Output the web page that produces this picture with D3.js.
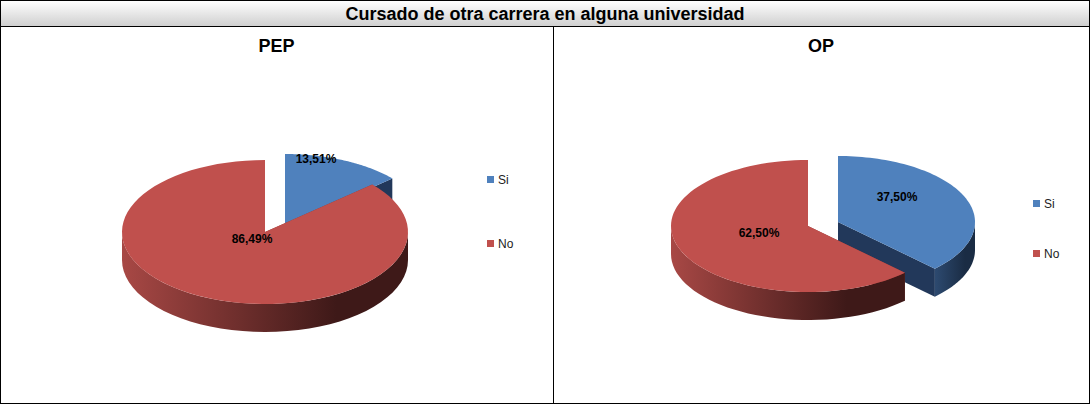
<!DOCTYPE html><html><head><meta charset="utf-8"><script src="https://cdn.jsdelivr.net/npm/d3@7"></script>
<style>body{margin:0;background:#fff}text{font-family:Arial,"Liberation Sans",sans-serif}</style></head><body>
<svg id="c" width="1090" height="404"></svg>
<script>
const title="Cursado de otra carrera en alguna universidad";
const categories=["Si","No"];
const pepValues=[13.51,86.49];
const opValues=[37.50,62.50];
const charts=[
 {name:"PEP",values:pepValues,x0:0,w:553,cx:265,cy:232,rx:143,ry:72,d:28,off:[20,-6],legX:487,legY:[180,244],lab:[[316,163],[252,243]]},
 {name:"OP",values:opValues,x0:553,w:536,cx:808,cy:226,rx:137,ry:66,d:28,off:[30,-4],legX:1033,legY:[204,254],lab:[[897,201],[759,237]]}
];
const svg=d3.select("#c");
const defs=svg.append("defs");
const tg=defs.append("linearGradient").attr("id","tg").attr("x1",0).attr("y1",0).attr("x2",0).attr("y2",1);
tg.append("stop").attr("offset",0).attr("stop-color","#fff");tg.append("stop").attr("offset",1).attr("stop-color","#cfcfcf");
const mk=(id,a,b)=>{const g=defs.append("linearGradient").attr("id",id);g.append("stop").attr("offset",0).attr("stop-color",a);g.append("stop").attr("offset",0.75).attr("stop-color",b);g.append("stop").attr("offset",1).attr("stop-color",b);};
mk("rw","#a84845","#3e1918");mk("bw","#2d4a70","#1a2c44");
const topC={Si:"#4F81BD",No:"#C0504D"},wallC={Si:"url(#bw)",No:"url(#rw)"},faceC={Si:"#22385a",No:"#8a3633"};
svg.append("rect").attr("x",0.5).attr("y",0.5).attr("width",1089).attr("height",26).attr("fill","url(#tg)").attr("stroke","#000");
svg.append("text").attr("x",545).attr("y",20).attr("text-anchor","middle").attr("font-size",18).attr("font-weight","bold").text(title);
charts.forEach(c=>{
 svg.append("rect").attr("x",c.x0+0.5).attr("y",26.5).attr("width",c.w).attr("height",377).attr("fill","none").attr("stroke","#000");
 svg.append("text").attr("x",c.x0+c.w/2).attr("y",52).attr("text-anchor","middle").attr("font-size",18).attr("font-weight","bold").text(c.name);
 const arcs=d3.pie().sort(null)(c.values);
 const g=svg.append("g");
 arcs.forEach((a,i)=>{
  const k=categories[i];
  let cx=c.cx,cy=c.cy;
  if(i===0){cx+=c.off[0];cy+=c.off[1];}
  const P=(t,dy=0)=>[cx+c.rx*Math.sin(t),cy-c.ry*Math.cos(t)+dy];
  const sg=g.append("g");
  [a.startAngle,a.endAngle].forEach(t=>{
   const e=P(t);
   sg.append("path").attr("d",d3.line()([[cx,cy],e,[e[0],e[1]+c.d],[cx,cy+c.d]])+"Z").attr("fill",faceC[k]);
  });
  const s=Math.max(a.startAngle,Math.PI/2),en=Math.min(a.endAngle,3*Math.PI/2);
  if(en>s){const up=d3.range(0,41).map(j=>P(s+(en-s)*j/40));const dn=up.slice().reverse().map(p=>[p[0],p[1]+c.d]);
   sg.append("path").attr("d",d3.line()(up.concat(dn))+"Z").attr("fill",wallC[k]);}
  const pts=[[cx,cy]].concat(d3.range(0,81).map(j=>P(a.startAngle+(a.endAngle-a.startAngle)*j/80)));
  sg.append("path").attr("d",d3.line()(pts)+"Z").attr("fill",topC[k]);
  svg.append("text").attr("x",c.lab[i][0]).attr("y",c.lab[i][1]).attr("text-anchor","middle").attr("font-size",12).attr("font-weight","bold").text(d3.format(".2f")(c.values[i]).replace(".",",")+"%");
  svg.append("rect").attr("x",c.legX).attr("y",c.legY[i]-4).attr("width",7).attr("height",7).attr("fill",topC[k]);
  svg.append("text").attr("x",c.legX+11).attr("y",c.legY[i]+4).attr("font-size",12).attr("fill","#222").text(k);
 });
});
</script></body></html>
